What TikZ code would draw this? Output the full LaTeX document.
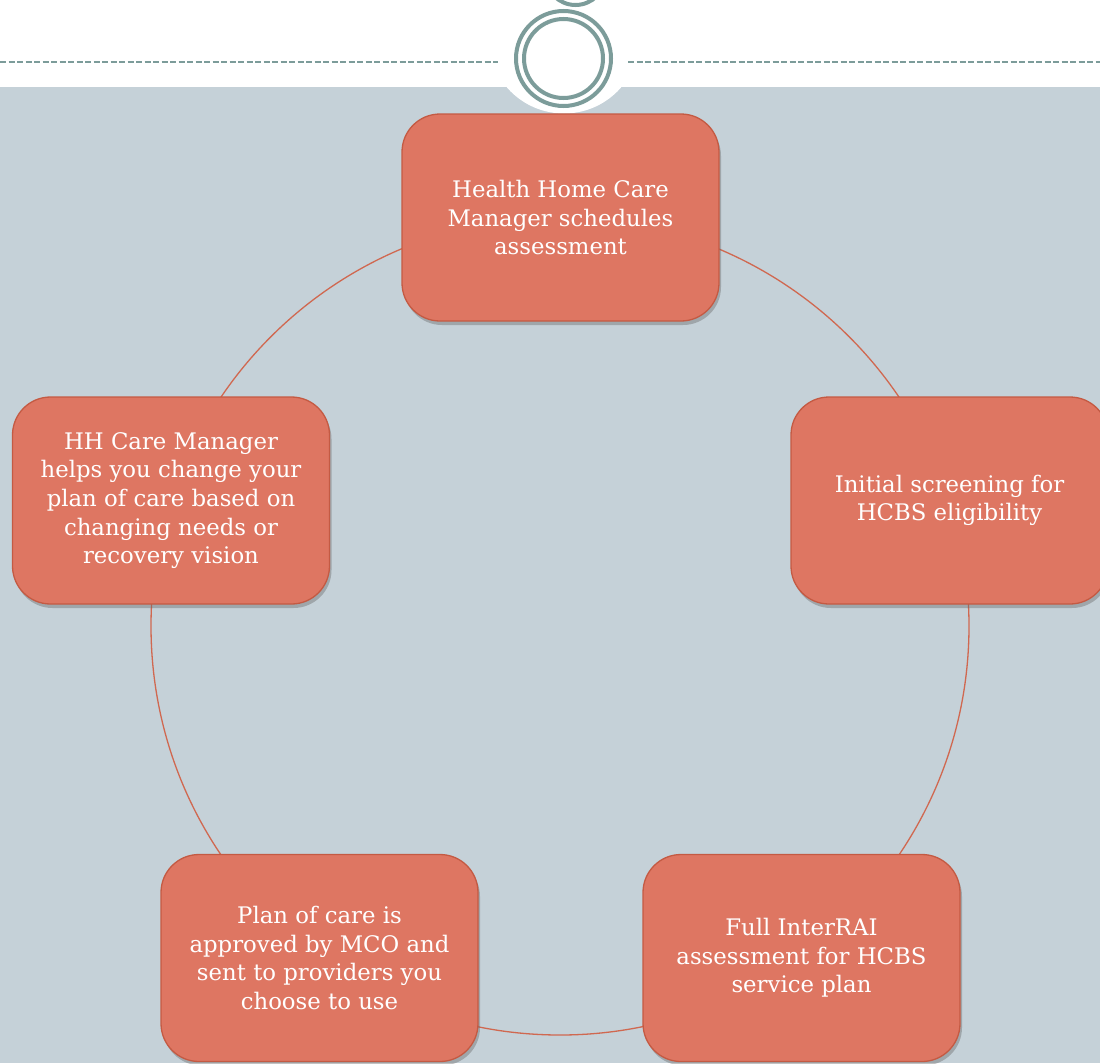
\documentclass[tikz,border=0pt]{standalone}
\usepackage{fontspec}
\setmainfont{DejaVu Serif}
\usetikzlibrary{shadows}
\definecolor{bgblue}{HTML}{C5D1D8}
\definecolor{boxfill}{HTML}{DE7662}
\definecolor{boxline}{HTML}{C45A43}
\definecolor{ringline}{HTML}{D06850}
\definecolor{emblem}{HTML}{7C9C9A}
\tikzset{
  stepbox/.style={draw=boxline, line width=1.3pt, fill=boxfill, rounded corners=38pt,
    minimum width=317pt, minimum height=207pt, inner sep=0pt, align=center,
    text=white, font=\fontsize{22.8}{28.6}\selectfont,
    drop shadow={shadow xshift=2pt, shadow yshift=-4pt, opacity=0.4, fill=black!60}},
  emblemring/.style={draw=emblem, line width=4pt},
  dashline/.style={draw=emblem, line width=1.6pt, dash pattern=on 6pt off 2.5pt}
}
\begin{document}
\begin{tikzpicture}[x=1pt,y=-1pt]
\useasboundingbox (0,0) rectangle (1100,1063);
\clip (0,0) rectangle (1100,1063);
\fill[white] (0,0) rectangle (1100,1063);
\fill[bgblue] (0,87) rectangle (1100,1063);
\fill[white] (564,38) circle[radius=75.5pt];
\coordinate (dl0) at (0,62);
\coordinate (dl1) at (498,62);
\coordinate (dr0) at (628,62);
\coordinate (dr1) at (1100,62);
\draw[dashline] (dl0) -- (dl1);
\draw[dashline] (dr0) -- (dr1);
\node[emblemring, circle, minimum size=95pt, inner sep=0pt] (em1) at (563.5,58.5) {};
\node[emblemring, circle, minimum size=79pt, inner sep=0pt] (em2) at (563.5,58.5) {};
\node[emblemring, circle, minimum size=60pt, inner sep=0pt] (em3) at (575.5,-25) {};
% cycle ring
\node[draw=ringline, line width=1.3pt, circle, minimum size=818pt, inner sep=0pt] (ring) at (560,626) {};
\node[stepbox] (s1) at (560.5,217.5) {Health Home Care\\Manager schedules\\assessment};
\node[stepbox] (s2) at (949.5,500.5) {Initial screening for\\HCBS eligibility};
\node[stepbox] (s3) at (801.5,958) {Full InterRAI\\assessment for HCBS\\service plan};
\node[stepbox] (s4) at (319.5,958) {Plan of care is\\approved by MCO and\\sent to providers you\\choose to use};
\node[stepbox] (s5) at (171,500.5) {HH Care Manager\\helps you change your\\plan of care based on\\changing needs or\\recovery vision};
\end{tikzpicture}
\end{document}
